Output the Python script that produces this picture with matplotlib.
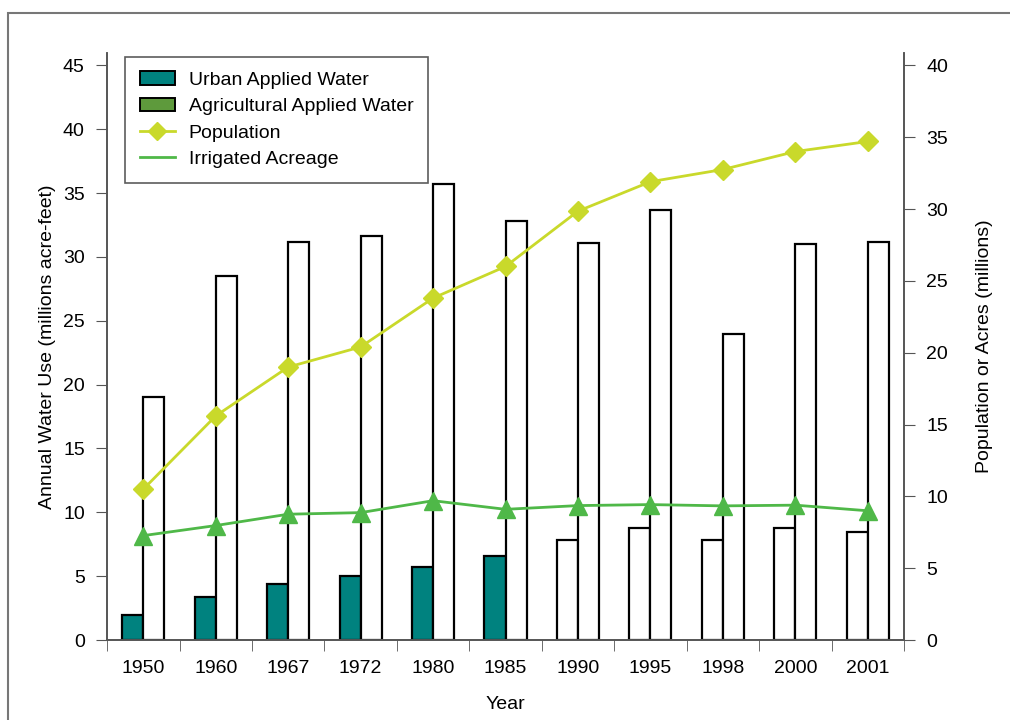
# 연도별 물 사용량과 인구/관개면적 그래프
import numpy as np
import matplotlib.pyplot as plt
from matplotlib.patches import Patch, Rectangle
from matplotlib.lines import Line2D

plt.rcParams['font.family'] = ['Liberation Sans', 'DejaVu Sans']

# 데이터
years = ['1950', '1960', '1967', '1972', '1980', '1985', '1990', '1995', '1998', '2000', '2001']
urban = [2.0, 3.4, 4.4, 5.0, 5.7, 6.6, 7.8, 8.8, 7.8, 8.8, 8.5]
agri = [19.0, 28.5, 31.2, 31.6, 35.7, 32.8, 31.1, 33.7, 24.0, 31.0, 31.2]
urban_filled = [True, True, True, True, True, True, False, False, False, False, False]
population = [10.5, 15.6, 19.0, 20.4, 23.8, 26.0, 29.85, 31.9, 32.75, 34.0, 34.7]
irrigated = [7.27, 7.97, 8.76, 8.87, 9.7, 9.1, 9.36, 9.43, 9.34, 9.39, 9.0]

teal = '#00827f'
ag_green = '#5e9a3c'
pop_color = '#c9d92b'
irr_color = '#4fb848'
axis_gray = '#555555'

fig = plt.figure(figsize=(10.1, 7.2), dpi=100)
ax = fig.add_axes([0.106, 0.111, 0.789, 0.816])
ax2 = ax.twinx()

x = np.arange(len(years))
w = 0.29
ucolors = [teal if f else 'white' for f in urban_filled]
ax.bar(x - w / 2, urban, width=w, color=ucolors, edgecolor='black', linewidth=1.6, zorder=2)
ax.bar(x + w / 2, agri, width=w, color='white', edgecolor='black', linewidth=1.6, zorder=2)

ax2.plot(x, population, color=pop_color, lw=2, marker='D', ms=10, zorder=3)
ax2.plot(x, irrigated, color=irr_color, lw=2, marker='^', ms=13, zorder=3)

# 축 설정
ax.set_xlim(-0.5, len(years) - 0.5)
ax.set_ylim(0, 46)
ax2.set_ylim(0, 46 * 40 / 45)
ax.set_yticks(range(0, 50, 5))
ax2.set_yticks(range(0, 45, 5))
ax.set_xticks(x)
ax.set_xticklabels(years)
ax.set_xticks(np.arange(-0.5, len(years), 1), minor=True)
ax.tick_params(axis='x', which='major', length=0, pad=14, labelsize=14)
ax.tick_params(axis='x', which='minor', length=8, color=axis_gray, direction='out')
ax.tick_params(axis='y', length=8, color=axis_gray, labelsize=14, pad=8)
ax2.tick_params(axis='y', length=8, color=axis_gray, labelsize=14, pad=8)

for a in (ax, ax2):
    a.spines['top'].set_visible(False)
    for s in ('left', 'right', 'bottom'):
        a.spines[s].set_color(axis_gray)
        a.spines[s].set_linewidth(1.2)

ax.set_xlabel('Year', fontsize=14, labelpad=14)
ax.set_ylabel('Annual Water Use (millions acre-feet)', fontsize=14, labelpad=5)
ax2.set_ylabel('Population or Acres (millions)', fontsize=14, labelpad=20)

# 범례
handles = [
    Patch(facecolor=teal, edgecolor='black', linewidth=1.4),
    Patch(facecolor=ag_green, edgecolor='black', linewidth=1.4),
    Line2D([], [], color=pop_color, lw=2, marker='D', ms=9),
    Line2D([], [], color=irr_color, lw=2),
]
labels = ['Urban Applied Water', 'Agricultural Applied Water', 'Population', 'Irrigated Acreage']
leg = ax2.legend(handles, labels, loc='upper left', bbox_to_anchor=(0.023, 0.993), fontsize=14,
                 frameon=True, fancybox=False, edgecolor='#333333', handlelength=1.8,
                 labelspacing=0.45, borderpad=0.75, handletextpad=0.7, borderaxespad=0)
leg.get_frame().set_linewidth(1.2)

# 바깥 테두리
fig.patches.append(Rectangle((0.008, -0.05), 1.1, 1.032, transform=fig.transFigure,
                             fill=False, edgecolor='#777777', linewidth=1.5))

plt.savefig('out.png', dpi=100)
